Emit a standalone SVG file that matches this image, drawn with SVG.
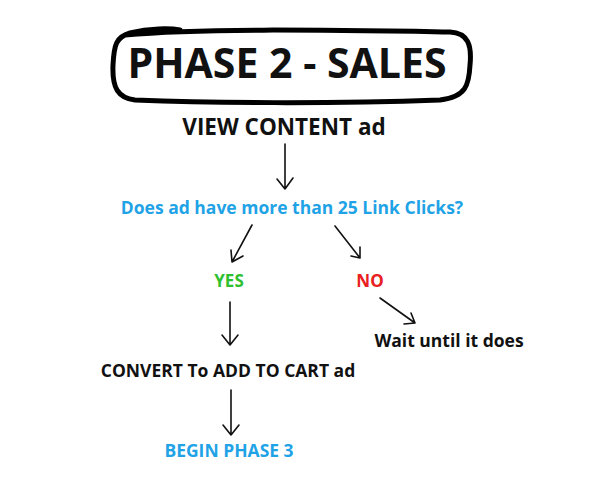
<svg xmlns="http://www.w3.org/2000/svg" width="600" height="491" viewBox="0 0 600 491">
<style>
text{font-family:"Open Sans","DejaVu Sans",sans-serif;font-weight:bold;text-anchor:middle}
.k{fill:#111}.b{fill:#1fa3e6}
.c path{fill:none;stroke:#111;stroke-width:1.6;stroke-linecap:round;stroke-linejoin:round}
</style>
<rect width="600" height="491" fill="#fff"/>
<g id="title">
<path d="M125,35 C200,28 320,30 450,32 C468,33 472,45 470,65 C469,85 466,97 440,100 C330,104 210,103 135,100 C118,98 112,88 113,65 C114,45 116,37 130,33 C150,28 170,28 180,30" fill="none" stroke="#000" stroke-width="5" stroke-linecap="round"/>
<text x="287" y="78" font-size="41" class="k">PHASE 2 - SALES</text>
</g>
<g id="view"><text x="284" y="135" font-size="22.5" class="k">VIEW CONTENT ad</text></g>
<g id="question"><text x="292" y="214" font-size="17.5" class="b">Does ad have more than 25 Link Clicks?</text></g>
<g id="yes"><text x="229" y="287" font-size="17" fill="#2ec02e">YES</text></g>
<g id="no"><text x="370" y="287" font-size="17" fill="#e82020">NO</text></g>
<g id="wait"><text x="449" y="347" font-size="17.5" class="k">Wait until it does</text></g>
<g id="convert"><text x="228" y="377" font-size="17.5" class="k">CONVERT To ADD TO CART ad</text></g>
<g id="phase3"><text x="229" y="457" font-size="17.5" class="b">BEGIN PHASE 3</text></g>
<g id="connectors" class="c">
<path d="M285,144 L285,189 M277,179 L285,189 L293,178"/>
<path d="M252,225 L232,262 M231,250 L232,262 L243,256"/>
<path d="M335,226 L360,258 M351,256 L360,258 L360,247"/>
<path d="M230,302 L230,345 M222,335 L230,345 L238,335"/>
<path d="M380,298 L415,323 M404,324 L415,323 L411,313"/>
<path d="M231,390 L231,435 M223,425 L231,435 L239,425"/>
</g>
</svg>
